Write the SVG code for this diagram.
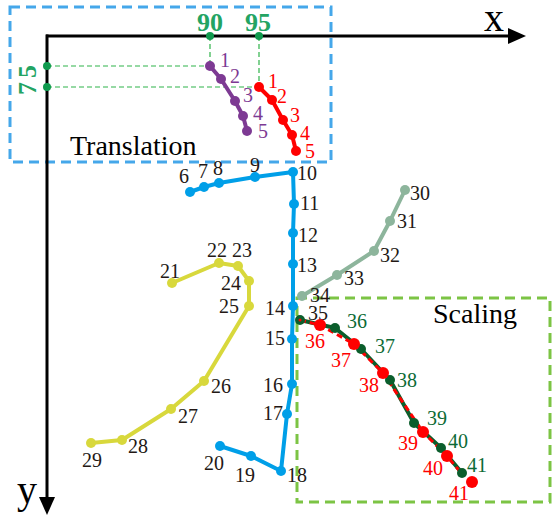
<svg xmlns="http://www.w3.org/2000/svg" width="552" height="516" viewBox="0 0 552 516">
<defs>
<style>
text{font-family:"Liberation Serif","Times New Roman",serif;font-size:20px}
.blk{fill:#231815}
.pu{fill:#7d3a93}
.rd{fill:#ff0000}
.gl{fill:#0c6b36}
.ax{font-size:26px;font-weight:bold;fill:#23a463}
.big{font-size:28px;fill:#000}
.axl{font-size:40px;fill:#000}
.guide{stroke:#2fb34a;stroke-width:1.2;stroke-dasharray:5 3;fill:none}
.skel{fill:none;stroke-width:4;stroke-linejoin:round;stroke-linecap:round}
</style>
<marker id="arr" markerWidth="10" markerHeight="10" refX="9" refY="5" orient="auto" markerUnits="userSpaceOnUse" viewBox="0 0 10 10">
<path d="M0,0 L10,5 L0,10 z" fill="#000"/>
</marker>
</defs>
<rect width="552" height="516" fill="#fff"/>

<!-- frames -->
<g id="translation-box">
<rect x="10" y="7" width="321" height="155" fill="none" stroke="#45a7ea" stroke-width="3" stroke-dasharray="10 6"/>
<text x="70" y="155" class="big">Translation</text>
</g>
<g id="scaling-box">
<rect x="297" y="298" width="253" height="204" fill="none" stroke="#7cc444" stroke-width="3" stroke-dasharray="10 6"/>
<text x="433" y="323" class="big">Scaling</text>
</g>

<!-- axes -->
<g id="axes">
<line x1="46" y1="36" x2="508" y2="36" stroke="#000" stroke-width="3"/>
<path d="M508,28 L526,36 L508,44 z" fill="#000"/>
<line x1="47" y1="34.5" x2="47" y2="497" stroke="#000" stroke-width="3"/>
<path d="M39,497 L47,515 L55,497 z" fill="#000"/>
<text x="484" y="31" class="axl">x</text>
<text x="17" y="503" class="axl">y</text>
</g>

<!-- guides -->
<g id="guides">
<path class="guide" d="M47,66 H210 M47,87 H259 M210,36 V66 M259,36 V87"/>
<circle cx="210" cy="36" r="4" fill="#0f9a4e"/>
<circle cx="259" cy="36" r="4" fill="#0f9a4e"/>
<circle cx="47" cy="66" r="4" fill="#0f9a4e"/>
<circle cx="47" cy="87" r="4" fill="#0f9a4e"/>
<text x="197" y="31" class="ax">90</text>
<text x="245" y="31" class="ax">95</text>
<text transform="translate(36,78) rotate(-90)" text-anchor="middle" class="ax" letter-spacing="4">75</text>
</g>

<!-- connectors -->
<g id="connectors">
<polyline class="skel" stroke="#7d3a93" points="210,66 221,79 235,101 243,116 247,131"/>
<polyline class="skel" stroke="#ff0000" points="259,87 272,100 283,120 292,135 296,151"/>
<polyline class="skel" stroke="#009fe8" points="190,192 204,187 219,183 255,177 293,172 294,204 293,233 293,264 293,306 292,339 292,384 287,414 281,471 251,456 220,446"/>
<polyline class="skel" stroke="#d8d83c" points="172,283 219,263 238,266 249,281 249,306 204,381 171,409 122,440 91,443"/>
<polyline class="skel" stroke="#8db59c" points="405,190 390,221 374,251 337,275 302,296"/>
<polyline class="skel" stroke="#0b5e2c" stroke-width="5" points="300,320 335,328 361,349 390,380 414,423 441,448 462,473"/>
<polyline fill="none" stroke="#ff0000" stroke-width="3" stroke-dasharray="6 4" points="300,320 320,325 354,344 383,373 423,432 447,456 462,474"/>
</g>

<!-- purple (translated) -->
<g id="purple" fill="#7d3a93">
<g id="p1"><circle cx="210" cy="66" r="5"/><text x="220" y="67" class="pu">1</text></g>
<g id="p2"><circle cx="221" cy="79" r="5"/><text x="230" y="83" class="pu">2</text></g>
<g id="p3"><circle cx="235" cy="101" r="5"/><text x="243" y="102" class="pu">3</text></g>
<g id="p4"><circle cx="243" cy="116" r="5"/><text x="253" y="120" class="pu">4</text></g>
<g id="p5"><circle cx="247" cy="131" r="5"/><text x="258" y="138" class="pu">5</text></g>
</g>
<g id="red" fill="#ff0000">
<g id="r1"><circle cx="259" cy="87" r="5"/><text x="268" y="88" class="rd">1</text></g>
<g id="r2"><circle cx="272" cy="100" r="5"/><text x="277" y="103" class="rd">2</text></g>
<g id="r3"><circle cx="283" cy="120" r="5"/><text x="290" y="122" class="rd">3</text></g>
<g id="r4"><circle cx="292" cy="135" r="5"/><text x="300" y="140" class="rd">4</text></g>
<g id="r5"><circle cx="296" cy="151" r="5"/><text x="305" y="158" class="rd">5</text></g>
</g>

<!-- blue -->
<g id="blue" fill="#009fe8">
<g id="b6"><circle cx="190" cy="192" r="5"/><text x="179" y="183" class="blk">6</text></g>
<g id="b7"><circle cx="204" cy="187" r="5"/><text x="198" y="178" class="blk">7</text></g>
<g id="b8"><circle cx="219" cy="183" r="5"/><text x="213" y="175" class="blk">8</text></g>
<g id="b9"><circle cx="255" cy="177" r="5"/><text x="250" y="172" class="blk">9</text></g>
<g id="b10"><circle cx="293" cy="172" r="5"/><text x="297" y="180" class="blk">10</text></g>
<g id="b11"><circle cx="294" cy="204" r="5"/><text x="300" y="210" class="blk">11</text></g>
<g id="b12"><circle cx="293" cy="233" r="5"/><text x="298" y="242" class="blk">12</text></g>
<g id="b13"><circle cx="293" cy="264" r="5"/><text x="297" y="272" class="blk">13</text></g>
<g id="b14"><circle cx="293" cy="306" r="5"/><text x="265" y="315" class="blk">14</text></g>
<g id="b15"><circle cx="292" cy="339" r="5"/><text x="265" y="345" class="blk">15</text></g>
<g id="b16"><circle cx="292" cy="384" r="5"/><text x="263" y="392" class="blk">16</text></g>
<g id="b17"><circle cx="287" cy="414" r="5"/><text x="263" y="420" class="blk">17</text></g>
<g id="b18"><circle cx="281" cy="471" r="5"/><text x="287" y="482" class="blk">18</text></g>
<g id="b19"><circle cx="251" cy="456" r="5"/><text x="235" y="482" class="blk">19</text></g>
<g id="b20"><circle cx="220" cy="446" r="5"/><text x="204" y="470" class="blk">20</text></g>
</g>

<!-- yellow -->
<g id="yellow" fill="#d8d83c">
<g id="y21"><circle cx="172" cy="283" r="5"/><text x="160" y="278" class="blk">21</text></g>
<g id="y22"><circle cx="219" cy="263" r="5"/><text x="207" y="257" class="blk">22</text></g>
<g id="y23"><circle cx="238" cy="266" r="5"/><text x="232" y="257" class="blk">23</text></g>
<g id="y24"><circle cx="249" cy="281" r="5"/><text x="221" y="290" class="blk">24</text></g>
<g id="y25"><circle cx="249" cy="306" r="5"/><text x="219" y="313" class="blk">25</text></g>
<g id="y26"><circle cx="204" cy="381" r="5"/><text x="211" y="393" class="blk">26</text></g>
<g id="y27"><circle cx="171" cy="409" r="5"/><text x="178" y="423" class="blk">27</text></g>
<g id="y28"><circle cx="122" cy="440" r="5"/><text x="128" y="453" class="blk">28</text></g>
<g id="y29"><circle cx="91" cy="443" r="5"/><text x="82" y="467" class="blk">29</text></g>
</g>

<!-- grey-green -->
<g id="grey" fill="#8db59c">
<g id="g30"><circle cx="405" cy="190" r="5"/><text x="410" y="200" class="blk">30</text></g>
<g id="g31"><circle cx="390" cy="221" r="5"/><text x="397" y="228" class="blk">31</text></g>
<g id="g32"><circle cx="374" cy="251" r="5"/><text x="380" y="262" class="blk">32</text></g>
<g id="g33"><circle cx="337" cy="275" r="5"/><text x="344" y="285" class="blk">33</text></g>
<g id="g34"><circle cx="302" cy="296" r="5"/><text x="310" y="302" class="blk">34</text></g>
</g>

<!-- scaling: dark green -->
<g id="dkgreen" fill="#0b5e2c">
<g id="s35"><circle cx="300" cy="320" r="5"/><circle cx="300" cy="320" r="1.5" fill="#ff0000"/><text x="308" y="320" class="blk">35</text></g>
<g id="s36"><circle cx="335" cy="328" r="5"/><text x="347" y="328" class="gl">36</text></g>
<g id="s37"><circle cx="361" cy="349" r="5"/><text x="375" y="353" class="gl">37</text></g>
<g id="s38"><circle cx="390" cy="380" r="5"/><text x="397" y="387" class="gl">38</text></g>
<g id="s39"><circle cx="414" cy="423" r="5"/><text x="427" y="425" class="gl">39</text></g>
<g id="s40"><circle cx="441" cy="448" r="5"/><text x="448" y="448" class="gl">40</text></g>
<g id="s41"><circle cx="462" cy="473" r="5"/><text x="467" y="472" class="gl">41</text></g>
</g>
<g id="scaled-red" fill="#ff0000">
<g id="t36"><circle cx="320" cy="325" r="6"/><text x="305" y="348" class="rd">36</text></g>
<g id="t37"><circle cx="354" cy="344" r="6"/><text x="331" y="367" class="rd">37</text></g>
<g id="t38"><circle cx="383" cy="373" r="6"/><text x="359" y="392" class="rd">38</text></g>
<g id="t39"><circle cx="423" cy="432" r="6"/><text x="398" y="450" class="rd">39</text></g>
<g id="t40"><circle cx="447" cy="456" r="6"/><text x="423" y="475" class="rd">40</text></g>
<g id="t41"><circle cx="472" cy="482" r="6"/><text x="449" y="500" class="rd">41</text></g>
</g>
</svg>
